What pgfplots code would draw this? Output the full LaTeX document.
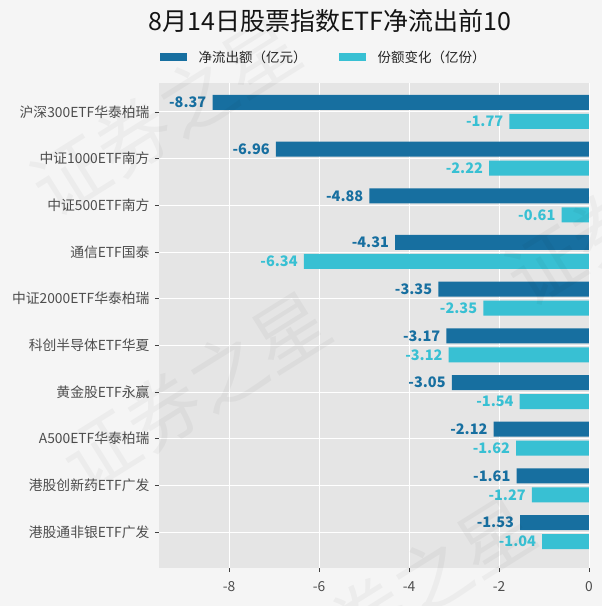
\documentclass[border=0pt]{standalone}
\usepackage{fontspec}
\setmainfont{Noto Sans CJK SC}
\usepackage{pgfplots}
\pgfplotsset{compat=1.18}
\definecolor{bg}{HTML}{F5F5F5}
\definecolor{panel}{HTML}{E5E5E5}
\definecolor{darkb}{HTML}{176FA0}
\definecolor{lightb}{HTML}{38C0D3}
\definecolor{ticklab}{HTML}{4D4D4D}
\begin{document}
\begin{tikzpicture}[x=1pt,y=1pt]
\useasboundingbox (0,0) rectangle (602,606);
\fill[bg] (0,0) rectangle (602,606);
\begin{axis}[at={(159pt,38pt)}, anchor=south west,
  width=430pt, height=485pt, scale only axis,
  xbar, xmin=-9.56, xmax=0, ymin=-0.62, ymax=9.77, y dir=reverse,
  ytick={0,...,9},
  yticklabels={沪深300ETF华泰柏瑞,中证1000ETF南方,中证500ETF南方,通信ETF国泰,中证2000ETF华泰柏瑞,科创半导体ETF华夏,黄金股ETF永赢,A500ETF华泰柏瑞,港股创新药ETF广发,港股通非银ETF广发},
  xtick={-8,-6,-4,-2,0},
  axis background/.style={fill=panel},
  axis line style={draw=none},
  grid=major, major grid style={white, line width=0.9pt},
  tick align=outside, major tick length=4pt,
  tick style={color=black!75, line width=0.6pt},
  xtick pos=lower, ytick pos=left,
  ticklabel style={font=\fontsize{13.8}{14}\selectfont, text=ticklab},
  xticklabel style={yshift=-6pt},
  yticklabel style={xshift=-2pt},
  /pgf/number format/assume math mode=true,
  bar width=15pt,
  point meta=explicit symbolic,
  nodes near coords,
  nodes near coords style={font=\bfseries\fontsize{14.5}{15}\selectfont, anchor=east, inner sep=0pt, xshift=-6pt},
  legend columns=2,
  legend style={at={(axis description cs:0.383,1)}, anchor=center, yshift=26pt,
    draw=none, fill=none, font=\fontsize{13.5}{14}\selectfont, text=black!85,
    /tikz/every even column/.append style={column sep=30pt},
    /tikz/every odd column/.append style={column sep=10pt}},
  legend image code/.code={\fill[#1] (0pt,-4pt) rectangle (27pt,4pt);},
]
\addplot[fill=darkb, draw=none, bar shift=9.5pt, every node near coord/.append style={text=darkb}]
 coordinates {(-8.37,0) [-8.37] (-6.96,1) [-6.96] (-4.88,2) [-4.88] (-4.31,3) [-4.31] (-3.35,4) [-3.35]
   (-3.17,5) [-3.17] (-3.05,6) [-3.05] (-2.12,7) [-2.12] (-1.61,8) [-1.61] (-1.53,9) [-1.53]};
\addlegendentry{净流出额（亿元）}
\addplot[fill=lightb, draw=none, bar shift=-9.5pt, every node near coord/.append style={text=lightb}]
 coordinates {(-1.77,0) [-1.77] (-2.22,1) [-2.22] (-0.61,2) [-0.61] (-6.34,3) [-6.34] (-2.35,4) [-2.35]
   (-3.12,5) [-3.12] (-1.54,6) [-1.54] (-1.62,7) [-1.62] (-1.27,8) [-1.27] (-1.04,9) [-1.04]};
\addlegendentry{份额变化（亿份）}
\end{axis}
\node[font=\fontsize{25}{25}\selectfont, text=black!92] at (330,585) {8月14日股票指数ETF净流出前10};
\begin{scope}
\clip (0,0) rectangle (602,606);
\begin{scope}[opacity=0.035]
\node[font=\fontsize{75}{75}\selectfont, rotate=32] at (165,490) {证券之星};
\node[font=\fontsize{75}{75}\selectfont, rotate=32] at (195,215) {证券之星};
\node[font=\fontsize{75}{75}\selectfont, rotate=32] at (640,400) {证券之星};
\node[font=\fontsize{75}{75}\selectfont, rotate=32] at (400,10) {证券之星};
\end{scope}
\end{scope}
\end{tikzpicture}
\end{document}
